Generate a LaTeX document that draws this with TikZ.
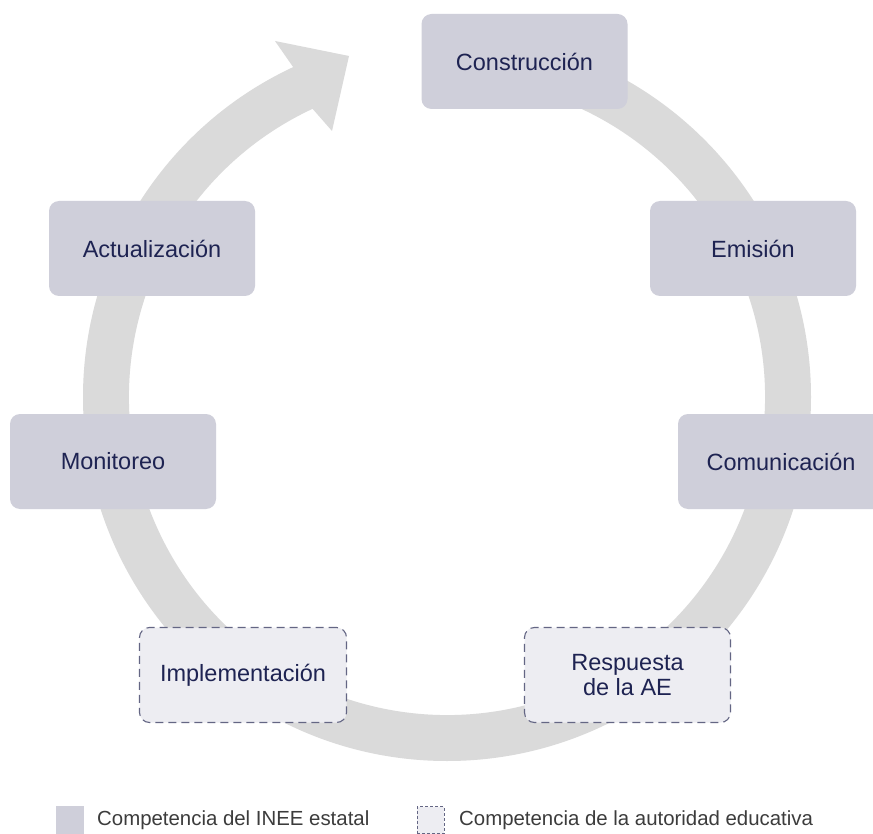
\documentclass[tikz,border=0pt]{standalone}
\usepackage{fontspec}
\setmainfont{Liberation Sans}
\definecolor{ringgray}{RGB}{218,218,218}
\definecolor{boxfill}{RGB}{207,207,218}
\definecolor{aefill}{RGB}{237,237,242}
\definecolor{navy}{RGB}{30,35,82}
\definecolor{dashcol}{RGB}{100,102,132}
\definecolor{legtext}{RGB}{60,60,60}
\begin{document}
\begin{tikzpicture}[x=1pt,y=-1pt,
  compbox/.style={fill=boxfill, rounded corners=10pt, minimum width=206pt, minimum height=95pt,
    text=navy, font=\fontsize{23.5}{25.3}\selectfont, align=center, inner sep=0pt},
  aebox/.style={compbox, fill=aefill, draw=dashcol, dash pattern=on 8pt off 5pt, line width=1.1pt},
  legsq/.style={minimum size=28pt, inner sep=0pt, fill=boxfill},
  legaesq/.style={minimum size=27pt, inner sep=0pt, fill=aefill, draw=dashcol, dash pattern=on 3pt off 2pt, line width=0.8pt},
  legtxt/.style={anchor=base west, inner sep=0pt, text=legtext, font=\fontsize{20.4}{24}\selectfont}]
\clip (0,0) rectangle (873,834);
\fill[white] (0,0) rectangle (873,834);
% ring with arrow head
\fill[ringgray] (447,33) arc[start angle=-90,end angle=245,radius=364]
  -- (275,41) -- (349,56) -- (332,131) -- (312.6,108.8)
  arc[start angle=245,end angle=-90,radius=318] -- cycle;
% boxes
\node[compbox] (constr) at (524.5,61.5) {Construcción};
\node[compbox] (emis) at (753,248.5) {Emisión};
\node[compbox] (comun) at (781,461.5) {Comunicación};
\node[compbox] (actual) at (152,248.5) {Actualización};
\node[compbox] (monit) at (113,461.5) {Monitoreo};
\node[aebox, minimum width=207pt, minimum height=95pt] (impl) at (243,675) {Implementación};
\node[aebox, minimum width=206pt, minimum height=95pt] (resp) at (627.5,675) {Respuesta\\de la AE};
% legend
\node[legsq] (lsq1) at (70,820) {};
\node[legtxt] (ltx1) at (97,825) {Competencia del INEE estatal};
\node[legaesq] (lsq2) at (430.5,820) {};
\node[legtxt] (ltx2) at (459,825) {Competencia de la autoridad educativa};
\end{tikzpicture}
\end{document}
